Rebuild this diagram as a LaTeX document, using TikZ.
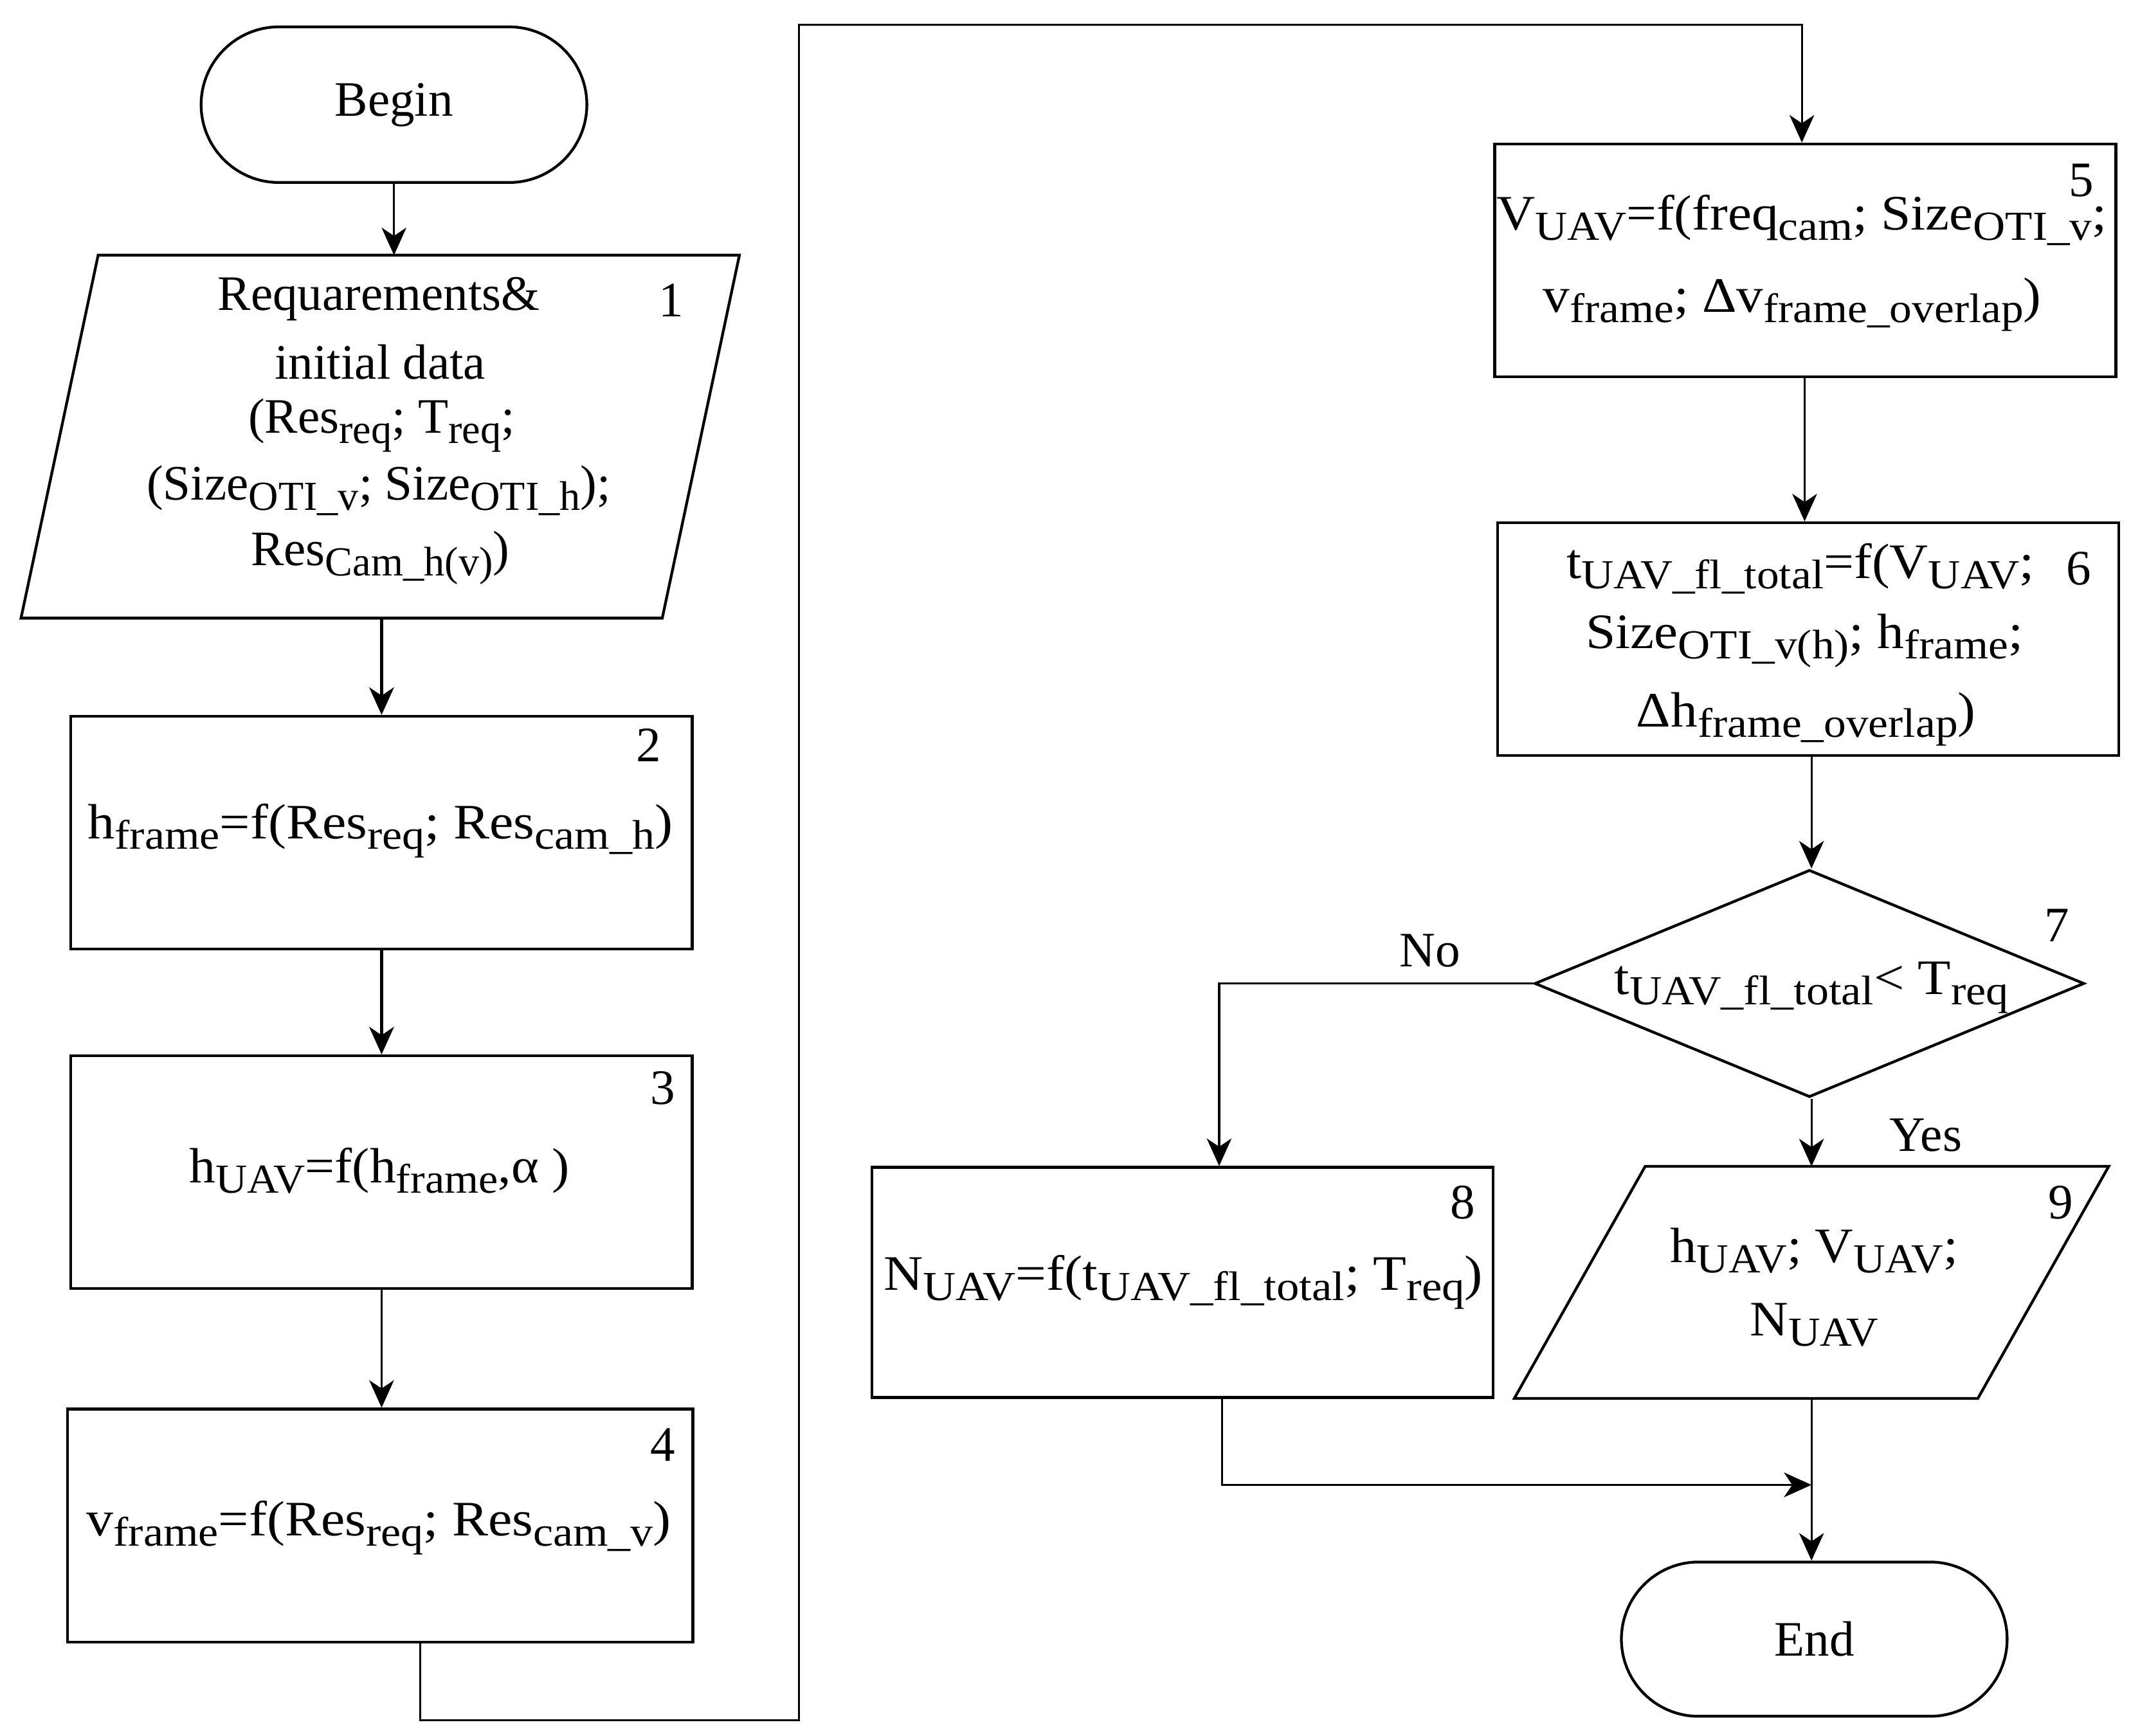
\documentclass[tikz,border=0pt]{standalone}
\usepackage{fontspec}
\setmainfont{Liberation Serif}
\usetikzlibrary{arrows.meta,shapes.misc,shapes.geometric}
\newcommand\sbs[1]{\raisebox{-0.45ex}{\fontsize{30}{30}\selectfont #1}}
\newcommand\hs[2][1.08]{\scalebox{#1}[1]{#2}}
\begin{document}
\begin{tikzpicture}[x=1pt,y=-1pt,line width=1.5pt,
  arr/.style={-{Stealth[length=20pt,width=18pt,inset=6pt]}},
  thickarr/.style={arr,line width=2.3pt},
  term/.style={draw,line width=2pt,rounded rectangle,minimum width=280pt,minimum height=113pt,inner sep=0pt,font=\fontsize{36}{40}\selectfont},
  boxn/.style={draw,line width=2pt,minimum width=451pt,minimum height=169pt,inner sep=0pt},
  shapeline/.style={draw,line width=2pt},
  ghost/.style={inner sep=0pt},
  txt/.style={inner sep=0pt,font=\fontsize{36}{46}\selectfont},
  num/.style={inner sep=0pt,font=\fontsize{36}{40}\selectfont}]
\useasboundingbox (0,0) rectangle (1560,1260);
% Begin
\node[term] (begin) at (286,76) {Begin};
% Box 1 (parallelogram)
\node[ghost,minimum width=520pt,minimum height=262pt] (b1) at (276,317) {};
\draw[shapeline] ([xshift=56pt]b1.north west) -- (b1.north east) -- ([xshift=-56pt]b1.south east) -- (b1.south west) -- cycle;
\node[txt] (t1a) at (275,217) {Requarements\&};
\node[txt] (t1b) at (276,263) {initial data};
\node[txt] (t1c) at (277,309) {(Res\sbs{req}; T\sbs{req};};
\node[txt] (t1d) at (275,356) {(Size\sbs{OTI\_v}; Size\sbs{OTI\_h});};
\node[txt] (t1e) at (276,405) {Res\sbs{Cam\_h(v)})};
\node[num] (n1) at (487,218) {1};
% Box 2
\node[boxn] (b2) at (277,604.5) {};
\node[txt] (t2) at (276,603) {\hs[1.09]{h\sbs{frame}=f(Res\sbs{req}; Res\sbs{cam\_h})}};
\node[num] (n2) at (471,541) {2};
% Box 3
\node[boxn] (b3) at (277,851) {};
\node[txt] (t3) at (275.5,850) {\hs[1.06]{h\sbs{UAV}=f(h\sbs{frame},α )}};
\node[num] (n3) at (481,790) {3};
% Box 4
\node[boxn,minimum width=454pt] (b4) at (276,1107.5) {};
\node[txt] (t4) at (275,1109) {\hs[1.09]{v\sbs{frame}=f(Res\sbs{req}; Res\sbs{cam\_v})}};
\node[num] (n4) at (481,1049) {4};
% Box 5
\node[boxn,minimum width=451pt] (b5) at (1310.5,189) {};
\node[txt] (t5a) at (1308,160) {\hs{V\sbs{UAV}=f(freq\sbs{cam}; Size\sbs{OTI\_v};}};
\node[txt] (t5b) at (1301,221) {\hs{v\sbs{frame}; Δv\sbs{frame\_overlap})}};
\node[num] (n5) at (1511,131) {5};
% Box 6
\node[boxn,minimum width=451pt] (b6) at (1312.5,464) {};
\node[txt] (t6a) at (1307,413) {\hs{t\sbs{UAV\_fl\_total}=f(V\sbs{UAV};}};
\node[txt] (t6b) at (1310,465) {\hs{Size\sbs{OTI\_v(h)}; h\sbs{frame};}};
\node[txt] (t6c) at (1311,522) {\hs{Δh\sbs{frame\_overlap})}};
\node[num] (n6) at (1509,413) {6};
% Decision 7
\node[draw,line width=2pt,diamond,aspect=2.4,minimum width=399pt,minimum height=165pt,inner sep=0pt] (d7) at (1313.5,714) {};
\node[txt] (t7) at (1315,717) {\hs[1.09]{t\sbs{UAV\_fl\_total}< T\sbs{req}}};
\node[num] (n7) at (1493,672) {7};
% Box 8
\node[boxn,minimum width=451pt,minimum height=167pt] (b8) at (858.5,931) {};
\node[txt] (t8) at (859,931) {\hs[1.1]{N\sbs{UAV}=f(t\sbs{UAV\_fl\_total}; T\sbs{req})}};
\node[num] (n8) at (1062,873) {8};
% Box 9 (parallelogram)
\node[ghost,minimum width=430pt,minimum height=167pt] (b9) at (1315,931) {};
\draw[shapeline] ([xshift=95pt]b9.north west) -- (b9.north east) -- ([xshift=-95pt]b9.south east) -- (b9.south west) -- cycle;
\node[txt] (t9a) at (1317,908) {\hs[1.07]{h\sbs{UAV}; V\sbs{UAV};}};
\node[txt] (t9b) at (1317,962) {\hs[1.07]{N\sbs{UAV}}};
\node[num] (n9) at (1496,873) {9};
% End
\node[term,minimum width=280pt,minimum height=112pt] (end) at (1317,1190) {End};
% labels
\node[num] (no) at (1038,690) {No};
\node[num] (yes) at (1398,824) {Yes};
% connectors
\draw[arr] (begin.south) -- (begin.south |- b1.north);
\coordinate (a1) at (277,0);
\draw[thickarr] (a1 |- b1.south) -- (a1 |- b2.north);
\draw[thickarr] (a1 |- b2.south) -- (a1 |- b3.north);
\draw[arr,line width=1.2pt] (a1 |- b3.south) -- (a1 |- b4.north);
\coordinate (k1) at (305,1249);
\coordinate (k2) at (580,1249);
\coordinate (k3) at (580,18);
\coordinate (k4) at (1308,18);
\draw[arr] (k1 |- b4.south) -- (k1) -- (k2) -- (k3) -- (k4) -- (k4 |- b5.north);
\coordinate (a5) at (1310,0);
\draw[arr] (a5 |- b5.south) -- (a5 |- b6.north);
\coordinate (a6) at (1315,0);
\draw[arr] (a6 |- b6.south) -- (a6 |- d7.north);
\coordinate (nb) at (885,714);
\draw[arr] (d7.west) -- (nb) -- (nb |- b8.north);
\coordinate (a7) at (1315,0);
\draw[arr] (a7 |- d7.south) -- (a7 |- b9.north);
\coordinate (j1) at (887,1078);
\draw[arr] (j1 |- b8.south) -- (j1) -- (j1 -| a7);
\draw[arr] (a7 |- b9.south) -- (a7 |- end.north);
\end{tikzpicture}
\end{document}
